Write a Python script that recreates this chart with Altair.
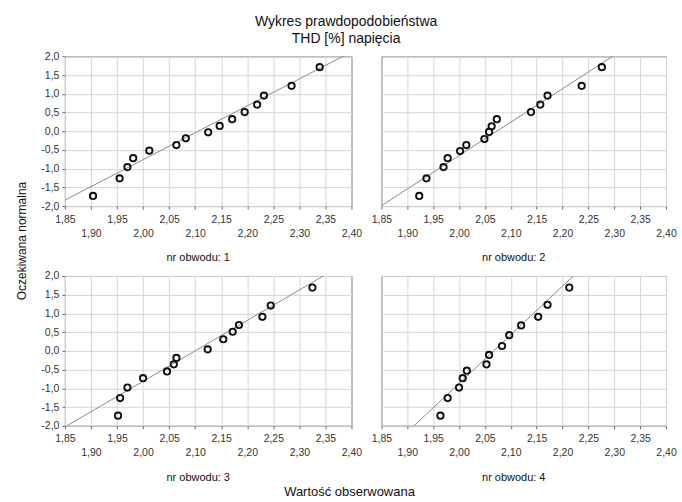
import altair as alt
import pandas as pd

# ---------------- data ----------------
panel_ids = [1, 2, 3, 4]

obs_1 = [1.904, 1.955, 1.970, 1.981, 2.012, 2.064, 2.082, 2.125, 2.147, 2.171, 2.195, 2.219, 2.232, 2.285, 2.339]
exp_1 = [-1.73, -1.26, -0.96, -0.72, -0.52, -0.37, -0.19, -0.03, 0.14, 0.32, 0.51, 0.71, 0.95, 1.21, 1.71]

obs_2 = [1.923, 1.937, 1.970, 1.978, 2.002, 2.014, 2.049, 2.058, 2.063, 2.073, 2.139, 2.157, 2.171, 2.237, 2.276]
exp_2 = [-1.73, -1.26, -0.96, -0.72, -0.53, -0.37, -0.21, -0.02, 0.13, 0.32, 0.51, 0.71, 0.95, 1.21, 1.71]

obs_3 = [1.952, 1.956, 1.970, 2.000, 2.046, 2.059, 2.064, 2.124, 2.154, 2.172, 2.184, 2.229, 2.245, 2.325]
exp_3 = [-1.73, -1.26, -0.98, -0.73, -0.55, -0.36, -0.19, 0.04, 0.31, 0.51, 0.69, 0.91, 1.21, 1.69]

obs_4 = [1.964, 1.978, 2.000, 2.007, 2.015, 2.053, 2.058, 2.083, 2.097, 2.120, 2.153, 2.171, 2.213]
exp_4 = [-1.73, -1.26, -0.98, -0.73, -0.53, -0.36, -0.11, 0.13, 0.42, 0.68, 0.91, 1.23, 1.69]

# reference (normal) line of each panel: mean and standard deviation
line_mean = [2.106, 2.073, 2.100, 2.067]
line_sd = [0.139, 0.112, 0.123, 0.077]

x_ticks = [1.85, 1.90, 1.95, 2.00, 2.05, 2.10, 2.15, 2.20, 2.25, 2.30, 2.35, 2.40]
y_ticks = [-2.0, -1.5, -1.0, -0.5, 0.0, 0.5, 1.0, 1.5, 2.0]
x_domain = [1.85, 2.40]
y_domain = [-2.0, 2.0]

title_lines = ["Wykres prawdopodobieństwa", "THD [%] napięcia"]
x_title = "Wartość obserwowana"
y_title = "Oczekiwana normalna"
panel_prefix = "nr obwodu: "

obs = [obs_1, obs_2, obs_3, obs_4]
exp = [exp_1, exp_2, exp_3, exp_4]

FONT = "Liberation Sans"
PW1, PW2, PH = 287, 285, 150
ROW_GAP, COL_GAP = 70, 30

x_label_expr = "replace(format(datum.value, '.2f'), '.', ',')"
y_label_expr = "(datum.value < 0 ? '-' : '') + replace(format(abs(datum.value), '.1f'), '.', ',')"
x_pad = {"condition": {"test": "round(datum.value * 100) % 10 == 0", "value": 19}, "value": 5}


def text_layer(txt, x, y, size, angle=0):
    return alt.Chart(pd.DataFrame({"t": [txt]})).mark_text(
        font=FONT, fontSize=size, color="#111111", angle=angle
    ).encode(text="t:N", x=alt.value(x), y=alt.value(y))


def make_panel(k, left, width, extra=None):
    pts = pd.DataFrame({"x": obs[k], "y": exp[k]})
    ends = list(x_domain)
    ln = pd.DataFrame({"x": ends, "y": [(v - line_mean[k]) / line_sd[k] for v in ends]})

    xenc = alt.X(
        "x:Q",
        scale=alt.Scale(domain=x_domain, nice=False, zero=False),
        axis=alt.Axis(values=x_ticks, labelExpr=x_label_expr, labelPadding=x_pad,
                      labelOverlap=False, labelFlush=False, title=None, grid=True,
                      tickSize=3, domain=False),
    )
    if left:
        yaxis = alt.Axis(values=y_ticks, labelExpr=y_label_expr, title=None, grid=True,
                         tickSize=3, labelPadding=3, domain=False, labelOverlap=False,
                         labelFlush=False)
    else:
        yaxis = alt.Axis(values=y_ticks, labels=False, ticks=False, title=None, grid=True,
                         domain=False)
    yenc = alt.Y("y:Q", scale=alt.Scale(domain=y_domain, nice=False, zero=False), axis=yaxis)

    line = alt.Chart(ln).mark_line(color="#8a8a8a", strokeWidth=1, clip=True).encode(x=xenc, y=yenc)
    points = alt.Chart(pts).mark_point(shape="circle", filled=False, color="#111111",
                                       strokeWidth=1.9, size=40, opacity=1).encode(x=xenc, y=yenc)
    label = text_layer(panel_prefix + str(panel_ids[k]), width / 2 - 10, PH + 52, 11)
    layers = [line, points, label]
    if extra is not None:
        layers.append(extra)
    return alt.layer(*layers).properties(width=width, height=PH)


# shared axis titles, drawn as text labels outside the plot areas
ytitle_text = text_layer(y_title, -43, PH + ROW_GAP / 2, 12, angle=270)
xtitle_text = text_layer(x_title, 285, PH + 66, 13)

p1 = make_panel(0, True, PW1, ytitle_text)
p2 = make_panel(1, False, PW2)
p3 = make_panel(2, True, PW1, xtitle_text)
p4 = make_panel(3, False, PW2)

chart = alt.concat(
    p1, p2, p3, p4, columns=2, spacing={"row": ROW_GAP, "column": COL_GAP}, bounds="flush"
).properties(
    title=alt.TitleParams(title_lines, anchor="middle", fontSize=14, lineHeight=17,
                          font=FONT, fontWeight="normal", color="#111111", offset=5),
    padding={"left": 15, "top": 14, "right": 5, "bottom": 2},
).configure_view(
    stroke="#555555", strokeWidth=1
).configure_axis(
    gridColor="#d6d6d6", gridWidth=1, tickColor="#666666", labelFont=FONT,
    labelFontSize=10.5, labelColor="#333333"
)

chart.save("out.html", embed_options={"renderer": "svg", "actions": False})
